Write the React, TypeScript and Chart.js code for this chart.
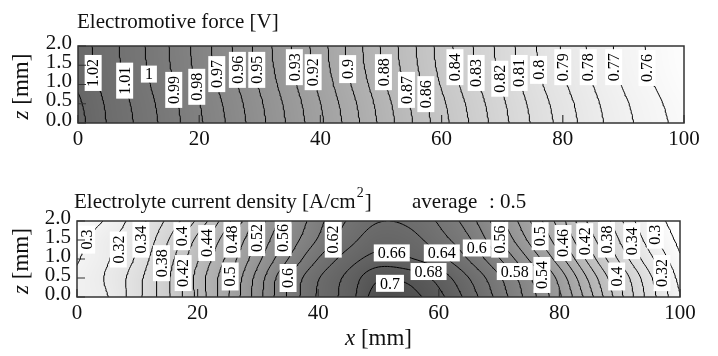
import React, { useEffect, useRef } from 'react';
import { Chart, registerables } from 'chart.js';

Chart.register(...registerables);

const SERIF = '"Liberation Serif", "Times New Roman", serif';
Chart.defaults.font.family = SERIF;

// Grid nodes: position along the cell x [mm] and across the electrolyte z [mm]
const xNodes = [0, 5, 10, 15, 20, 25, 30, 35, 40, 45, 50, 55, 60, 65, 70, 75, 80, 85, 90, 95, 100];
const zNodes = [0, 0.5, 1, 1.5, 2];

// Electromotive force [V] at each x node, one array per z node
const emfZ00 = [1.034, 1.0192, 1.0081, 0.9953, 0.9817, 0.9682, 0.9531, 0.9378, 0.9219, 0.9052, 0.8878, 0.8709, 0.8541, 0.8385, 0.8234, 0.809, 0.7962, 0.784, 0.7733, 0.7642, 0.7558];
const emfZ05 = [1.032, 1.0181, 1.0069, 0.9941, 0.9804, 0.9667, 0.9516, 0.9362, 0.9202, 0.9034, 0.886, 0.8691, 0.8523, 0.8367, 0.8218, 0.8074, 0.7946, 0.7825, 0.7718, 0.7627, 0.7541];
const emfZ10 = [1.0286, 1.0161, 1.0047, 0.9921, 0.9782, 0.964, 0.9489, 0.9334, 0.9173, 0.9002, 0.8828, 0.8659, 0.8491, 0.8337, 0.819, 0.8046, 0.7918, 0.78, 0.7692, 0.7601, 0.7512];
const emfZ15 = [1.0261, 1.0146, 1.0032, 0.9906, 0.9765, 0.962, 0.9469, 0.9314, 0.9151, 0.8978, 0.8804, 0.8636, 0.8468, 0.8315, 0.817, 0.8026, 0.7898, 0.7781, 0.7673, 0.7582, 0.7491];
const emfZ20 = [1.025, 1.014, 1.0025, 0.99, 0.9758, 0.9612, 0.9461, 0.9305, 0.9142, 0.8968, 0.8794, 0.8626, 0.8458, 0.8305, 0.8161, 0.8017, 0.7889, 0.7773, 0.7665, 0.7574, 0.7482];

const emfLevels = [1.03, 1.02, 1.01, 1, 0.99, 0.98, 0.97, 0.96, 0.95, 0.94, 0.93, 0.92, 0.91, 0.9, 0.89, 0.88, 0.87, 0.86, 0.85, 0.84, 0.83, 0.82, 0.81, 0.8, 0.79, 0.78, 0.77, 0.76];

const emfLabelValues = [1.02, 1.01, 1, 0.99, 0.98, 0.97, 0.96, 0.95, 0.93, 0.92, 0.9, 0.88, 0.87, 0.86, 0.84, 0.83, 0.82, 0.81, 0.8, 0.79, 0.78, 0.77, 0.76];
const emfLabelX = [2.5, 7.7, 11.7, 15.8, 19.6, 22.9, 26.3, 29.5, 35.7, 38.8, 44.5, 50.4, 54.2, 57.4, 62.2, 65.7, 69.6, 72.8, 76.0, 80.0, 84.2, 88.4, 93.9];
const emfLabelZ = [1.3, 1.1, 1.27, 0.86, 0.94, 1.27, 1.38, 1.38, 1.45, 1.32, 1.4, 1.32, 0.86, 0.75, 1.45, 1.3, 1.15, 1.3, 1.38, 1.45, 1.45, 1.45, 1.43];
const emfLabelUpright = [false, false, true, false, false, false, false, false, false, false, false, false, false, false, false, false, false, false, false, false, false, false, false];

// Electrolyte current density [A/cm2] at each x node, one array per z node
const curZ00 = [0.306, 0.319, 0.354, 0.396, 0.445, 0.498, 0.552, 0.603, 0.643, 0.67, 0.712, 0.708, 0.686, 0.652, 0.612, 0.571, 0.524, 0.468, 0.407, 0.351, 0.302];
const curZ05 = [0.304, 0.3226, 0.3526, 0.396, 0.447, 0.496, 0.548, 0.6, 0.6385, 0.666, 0.697, 0.694, 0.6725, 0.64, 0.603, 0.5626, 0.5133, 0.455, 0.398, 0.344, 0.293];
const curZ10 = [0.298, 0.318, 0.344, 0.3895, 0.438, 0.4857, 0.5343, 0.58, 0.6206, 0.65, 0.668, 0.662, 0.6467, 0.6185, 0.5815, 0.5382, 0.4889, 0.4318, 0.376, 0.326, 0.283];
const curZ15 = [0.293, 0.3155, 0.3374, 0.3782, 0.426, 0.4733, 0.5218, 0.5657, 0.6021, 0.6325, 0.652, 0.648, 0.6289, 0.6029, 0.561, 0.5164, 0.4663, 0.4111, 0.359, 0.31, 0.2733];
const curZ20 = [0.282, 0.3033, 0.3314, 0.364, 0.4042, 0.455, 0.5076, 0.5548, 0.5933, 0.622, 0.639, 0.636, 0.6175, 0.5893, 0.547, 0.5018, 0.4505, 0.3956, 0.3448, 0.2979, 0.265];

const curLevels = [0.28, 0.3, 0.32, 0.34, 0.36, 0.38, 0.4, 0.42, 0.44, 0.46, 0.48, 0.5, 0.52, 0.54, 0.56, 0.58, 0.6, 0.62, 0.64, 0.66, 0.68, 0.7];

const curLabelValues = [0.3, 0.32, 0.34, 0.38, 0.4, 0.42, 0.44, 0.48, 0.5, 0.52, 0.56, 0.6, 0.62, 0.66, 0.7, 0.64, 0.68, 0.6, 0.56, 0.58, 0.5, 0.54, 0.46, 0.42, 0.38, 0.4, 0.34, 0.3, 0.32];
const curLabelX = [1.6, 6.85, 10.6, 14.0, 17.4, 17.6, 21.5, 25.7, 25.4, 29.8, 34.2, 35.0, 42.5, 52.2, 51.9, 60.5, 58.3, 66.3, 70.1, 72.6, 76.8, 77.1, 80.6, 84.2, 87.8, 89.5, 92.0, 95.9, 97.0];
const curLabelZ = [1.51, 1.25, 1.51, 0.89, 1.6, 0.63, 1.42, 1.51, 0.54, 1.55, 1.55, 0.5, 1.51, 1.16, 0.36, 1.16, 0.67, 1.29, 1.51, 0.67, 1.6, 0.58, 1.42, 1.47, 1.51, 0.54, 1.47, 1.64, 0.63];
const curLabelUpright = [false, false, false, false, false, false, false, false, false, false, false, false, false, true, true, true, true, true, false, true, false, false, false, false, false, false, false, false, false];

type Field = (x: number, z: number) => number;
type Pt = { x: number; y: number | null };

// Smooth (Catmull-Rom) interpolation of a node table
function makeField(rows: number[][]): Field {
  const nx = xNodes.length;
  const nz = zNodes.length;
  const dx = xNodes[1] - xNodes[0];
  const dz = zNodes[1] - zNodes[0];
  const at = (i: number, j: number): number => {
    if (i < 0) return 2 * at(0, j) - at(1, j);
    if (i >= nx) return 2 * at(nx - 1, j) - at(nx - 2, j);
    if (j < 0) return 2 * at(i, 0) - at(i, 1);
    if (j >= nz) return 2 * at(i, nz - 1) - at(i, nz - 2);
    return rows[j][i];
  };
  const cr = (p0: number, p1: number, p2: number, p3: number, t: number) =>
    p1 + 0.5 * t * (p2 - p0 + t * (2 * p0 - 5 * p1 + 4 * p2 - p3 + t * (3 * (p1 - p2) + p3 - p0)));
  return (x: number, z: number) => {
    const fx = Math.min(Math.max((x - xNodes[0]) / dx, 0), nx - 1);
    const fz = Math.min(Math.max((z - zNodes[0]) / dz, 0), nz - 1);
    const i = Math.min(Math.floor(fx), nx - 2);
    const j = Math.min(Math.floor(fz), nz - 2);
    const tx = fx - i;
    const tz = fz - j;
    const c: number[] = [];
    for (let m = -1; m <= 2; m++) {
      c.push(cr(at(i - 1, j + m), at(i, j + m), at(i + 1, j + m), at(i + 2, j + m), tx));
    }
    return cr(c[0], c[1], c[2], c[3], tz);
  };
}

interface Sampled { nx: number; nz: number; xs: number[]; zs: number[]; v: Float64Array }

function sampleField(field: Field, nx: number, nz: number): Sampled {
  const xs: number[] = [];
  const zs: number[] = [];
  for (let i = 0; i <= nx; i++) xs.push(xNodes[0] + ((xNodes[xNodes.length - 1] - xNodes[0]) * i) / nx);
  for (let j = 0; j <= nz; j++) zs.push(zNodes[0] + ((zNodes[zNodes.length - 1] - zNodes[0]) * j) / nz);
  const v = new Float64Array((nx + 1) * (nz + 1));
  for (let j = 0; j <= nz; j++) for (let i = 0; i <= nx; i++) v[j * (nx + 1) + i] = field(xs[i], zs[j]);
  return { nx, nz, xs, zs, v };
}

// Marching squares, with the segments joined into polylines
function traceLevel(s: Sampled, level: number): Pt[][] {
  const { nx, nz, xs, zs, v } = s;
  const V = (i: number, j: number) => v[j * (nx + 1) + i];
  const hKey = (i: number, j: number) => (j * (nx + 1) + i) * 2;
  const vKey = (i: number, j: number) => (j * (nx + 1) + i) * 2 + 1;
  const pos = new Map<number, { x: number; y: number }>();
  const segs: [number, number][] = [];
  const adj = new Map<number, number[]>();
  const cross = (key: number, xa: number, za: number, va: number, xb: number, zb: number, vb: number) => {
    if (!pos.has(key)) {
      const t = (level - va) / (vb - va);
      pos.set(key, { x: xa + t * (xb - xa), y: za + t * (zb - za) });
    }
    return key;
  };
  const addSeg = (a: number, b: number) => {
    const n = segs.length;
    segs.push([a, b]);
    for (const k of [a, b]) {
      const l = adj.get(k);
      if (l) l.push(n);
      else adj.set(k, [n]);
    }
  };
  for (let j = 0; j < nz; j++) {
    for (let i = 0; i < nx; i++) {
      const a = V(i, j), b = V(i + 1, j), c = V(i + 1, j + 1), d = V(i, j + 1);
      const e: number[] = [];
      if (a < level !== b < level) e.push(cross(hKey(i, j), xs[i], zs[j], a, xs[i + 1], zs[j], b));
      if (b < level !== c < level) e.push(cross(vKey(i + 1, j), xs[i + 1], zs[j], b, xs[i + 1], zs[j + 1], c));
      if (d < level !== c < level) e.push(cross(hKey(i, j + 1), xs[i], zs[j + 1], d, xs[i + 1], zs[j + 1], c));
      if (a < level !== d < level) e.push(cross(vKey(i, j), xs[i], zs[j], a, xs[i], zs[j + 1], d));
      if (e.length === 2) addSeg(e[0], e[1]);
      else if (e.length === 4) {
        const centre = (a + b + c + d) / 4;
        if (centre < level === a < level) {
          addSeg(e[0], e[1]);
          addSeg(e[2], e[3]);
        } else {
          addSeg(e[0], e[3]);
          addSeg(e[1], e[2]);
        }
      }
    }
  }
  const used = new Array(segs.length).fill(false);
  const lines: Pt[][] = [];
  const walk = (startSeg: number, startKey: number) => {
    const line: Pt[] = [pos.get(startKey)!];
    let seg = startSeg;
    let key = startKey;
    while (seg >= 0 && !used[seg]) {
      used[seg] = true;
      const [p, q] = segs[seg];
      const next = p === key ? q : p;
      line.push(pos.get(next)!);
      const cand = (adj.get(next) || []).find((sg) => !used[sg]);
      key = next;
      seg = cand === undefined ? -1 : cand;
    }
    lines.push(line);
  };
  adj.forEach((list, key) => {
    if (list.length === 1 && !used[list[0]]) walk(list[0], key);
  });
  for (let sg = 0; sg < segs.length; sg++) if (!used[sg]) walk(sg, segs[sg][0]);
  return lines;
}

interface PanelSpec {
  rows: number[][];
  levels: number[];
  labelValues: number[];
  labelX: number[];
  labelZ: number[];
  labelUpright: boolean[];
  vMin: number;
  vMax: number;
  darkest: number;
  padTop: number;
  padRight: number;
  yAxisWidth: number;
  xAxisHeight: number;
  decorate: (ctx: CanvasRenderingContext2D, area: { left: number; right: number; top: number; bottom: number }) => void;
}

function drawRuns(ctx: CanvasRenderingContext2D, runs: [string, string][], x: number, y: number, align: 'left' | 'center') {
  ctx.textBaseline = 'alphabetic';
  ctx.textAlign = 'left';
  let total = 0;
  const widths = runs.map(([t, f]) => {
    ctx.font = f;
    const w = ctx.measureText(t).width;
    total += w;
    return w;
  });
  let cx = align === 'center' ? x - total / 2 : x;
  runs.forEach(([t, f], k) => {
    ctx.font = f;
    ctx.fillText(t, cx, y);
    cx += widths[k];
  });
}

function drawAxisTitleZ(ctx: CanvasRenderingContext2D, area: { top: number; bottom: number }) {
  ctx.save();
  ctx.translate(28, (area.top + area.bottom) / 2 + 2);
  ctx.rotate(-Math.PI / 2);
  ctx.fillStyle = '#111';
  drawRuns(ctx, [['z', `italic 23px ${SERIF}`], [' [mm]', `23px ${SERIF}`]], 0, 0, 'center');
  ctx.restore();
}

function buildPanel(canvas: HTMLCanvasElement, spec: PanelSpec): Chart {
  const field = makeField(spec.rows);
  const sampled = sampleField(field, 200, 40);
  const datasets = spec.levels.map((level) => {
    const data: Pt[] = [];
    for (const line of traceLevel(sampled, level)) {
      for (const p of line) data.push(p);
      data.push({ x: line[line.length - 1].x, y: null });
    }
    return {
      label: String(level),
      data,
      showLine: true,
      borderColor: '#000',
      borderWidth: 1,
      pointRadius: 0,
      pointHoverRadius: 0,
      spanGaps: false,
      fill: false,
    };
  });

  const shading = {
    id: 'shading',
    beforeDatasetsDraw(chart: Chart) {
      const { ctx, chartArea: a, scales } = chart;
      const w = Math.round(a.right - a.left);
      const h = Math.round(a.bottom - a.top);
      const off = document.createElement('canvas');
      off.width = w;
      off.height = h;
      const octx = off.getContext('2d')!;
      const img = octx.createImageData(w, h);
      const xs: number[] = [];
      for (let px = 0; px < w; px++) xs.push(scales.x.getValueForPixel(a.left + px + 0.5) as number);
      for (let py = 0; py < h; py++) {
        const z = scales.y.getValueForPixel(a.top + py + 0.5) as number;
        for (let px = 0; px < w; px++) {
          const val = field(xs[px], z);
          const t = Math.min(Math.max((val - spec.vMin) / (spec.vMax - spec.vMin), 0), 1);
          const g = Math.round(255 - (255 - spec.darkest) * t);
          const k = (py * w + px) * 4;
          img.data[k] = g;
          img.data[k + 1] = g;
          img.data[k + 2] = g;
          img.data[k + 3] = 255;
        }
      }
      octx.putImageData(img, 0, 0);
      ctx.drawImage(off, a.left, a.top);
    },
  };

  const decorations = {
    id: 'decorations',
    afterDatasetsDraw(chart: Chart) {
      const { ctx, chartArea: a, scales } = chart;
      ctx.save();
      ctx.font = `16px ${SERIF}`;
      ctx.textAlign = 'center';
      ctx.textBaseline = 'middle';
      spec.labelValues.forEach((val, k) => {
        const px = scales.x.getPixelForValue(spec.labelX[k]);
        const py = scales.y.getPixelForValue(spec.labelZ[k]);
        const text = String(val);
        const tw = ctx.measureText(text).width;
        ctx.save();
        ctx.translate(px, py);
        if (!spec.labelUpright[k]) ctx.rotate(-Math.PI / 2);
        ctx.fillStyle = '#fff';
        ctx.fillRect(-tw / 2 - 4, -8.5, tw + 8, 17);
        ctx.fillStyle = '#000';
        ctx.fillText(text, 0, 1);
        ctx.restore();
      });
      // frame and inward tick marks
      ctx.strokeStyle = '#333';
      ctx.lineWidth = 1.5;
      ctx.strokeRect(a.left, a.top, a.right - a.left, a.bottom - a.top);
      ctx.lineWidth = 1.2;
      ctx.beginPath();
      scales.y.ticks.forEach((tk) => {
        const py = scales.y.getPixelForValue(tk.value);
        ctx.moveTo(a.left, py);
        ctx.lineTo(a.left + 8, py);
      });
      scales.x.ticks.forEach((tk) => {
        const px = scales.x.getPixelForValue(tk.value);
        ctx.moveTo(px, a.bottom);
        ctx.lineTo(px, a.bottom - 8);
      });
      ctx.stroke();
      ctx.fillStyle = '#111';
      spec.decorate(ctx, a);
      drawAxisTitleZ(ctx, a);
      ctx.restore();
    },
  };

  const tickFont = { size: 21, family: SERIF };
  return new Chart(canvas, {
    type: 'scatter',
    data: { datasets: datasets as any },
    options: {
      animation: false,
      responsive: false,
      events: [],
      layout: { padding: { left: 0, right: spec.padRight, top: spec.padTop, bottom: 0 } },
      plugins: { legend: { display: false }, tooltip: { enabled: false }, title: { display: false } },
      scales: {
        x: {
          type: 'linear',
          min: 0,
          max: 100,
          ticks: { stepSize: 20, autoSkip: false, maxRotation: 0, padding: 4, font: tickFont, color: '#111' },
          grid: { display: false, drawTicks: false },
          border: { display: false },
          afterFit: (s: any) => {
            s.height = spec.xAxisHeight;
          },
        },
        y: {
          type: 'linear',
          min: 0,
          max: 2,
          ticks: {
            stepSize: 0.5,
            autoSkip: false,
            padding: 6,
            labelOffset: -3,
            font: tickFont,
            color: '#111',
            callback: (v: any) => Number(v).toFixed(1),
          },
          grid: { display: false, drawTicks: false },
          border: { display: false },
          afterFit: (s: any) => {
            s.width = spec.yAxisWidth;
          },
        },
      },
    } as any,
    plugins: [shading, decorations],
  });
}

const emfPanel: PanelSpec = {
  rows: [emfZ00, emfZ05, emfZ10, emfZ15, emfZ20],
  levels: emfLevels,
  labelValues: emfLabelValues,
  labelX: emfLabelX,
  labelZ: emfLabelZ,
  labelUpright: emfLabelUpright,
  vMin: 0.745,
  vMax: 1.035,
  darkest: 100,
  padTop: 46,
  padRight: 34,
  yAxisWidth: 78,
  xAxisHeight: 356 - 123,
  decorate: (ctx) => {
    drawRuns(ctx, [['Electromotive force [V]', `21px ${SERIF}`]], 77, 28, 'left');
  },
};

const currentPanel: PanelSpec = {
  rows: [curZ00, curZ05, curZ10, curZ15, curZ20],
  levels: curLevels,
  labelValues: curLabelValues,
  labelX: curLabelX,
  labelZ: curLabelZ,
  labelUpright: curLabelUpright,
  vMin: 0.27,
  vMax: 0.715,
  darkest: 78,
  padTop: 221,
  padRight: 38,
  yAxisWidth: 77,
  xAxisHeight: 356 - 297,
  decorate: (ctx, a) => {
    ctx.textBaseline = 'alphabetic';
    ctx.textAlign = 'left';
    ctx.font = `21px ${SERIF}`;
    const head = 'Electrolyte current density [A/cm';
    ctx.fillText(head, 74, 208);
    let x = 74 + ctx.measureText(head).width + 1;
    ctx.font = `14px ${SERIF}`;
    ctx.fillText('2', x, 197);
    x += ctx.measureText('2').width + 1;
    ctx.font = `21px ${SERIF}`;
    ctx.fillText(']', x, 208);
    ctx.fillText('average', 412, 208);
    ctx.fillText(': 0.5', 489, 208);
    drawRuns(ctx, [['x', `italic 23px ${SERIF}`], [' [mm]', `23px ${SERIF}`]], (a.left + a.right) / 2, 345, 'center');
  },
};

export default function App() {
  const topRef = useRef<HTMLCanvasElement>(null);
  const bottomRef = useRef<HTMLCanvasElement>(null);
  useEffect(() => {
    const bottom = buildPanel(bottomRef.current!, currentPanel);
    const top = buildPanel(topRef.current!, emfPanel);
    return () => {
      top.destroy();
      bottom.destroy();
    };
  }, []);
  return (
    <div style={{ position: 'absolute', left: 0, top: 0, width: 718, height: 356, background: '#fff' }}>
      <canvas ref={bottomRef} width={718} height={356} style={{ position: 'absolute', left: 0, top: 0 }} />
      <canvas ref={topRef} width={718} height={356} style={{ position: 'absolute', left: 0, top: 0 }} />
    </div>
  );
}
